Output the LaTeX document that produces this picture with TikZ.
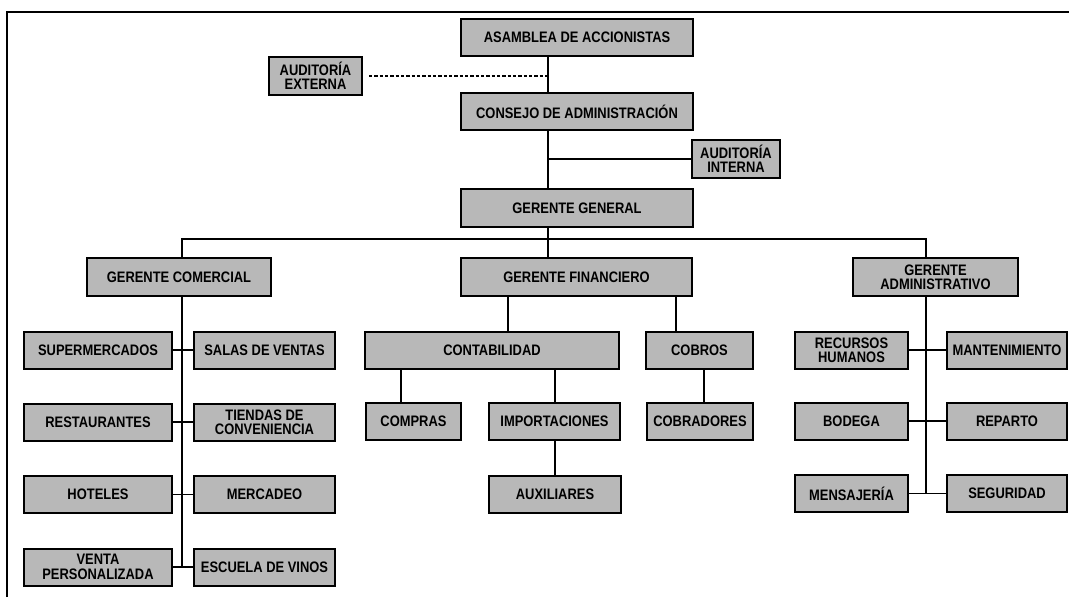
\documentclass[tikz,border=0pt]{standalone}
\usepackage{fontspec}
\setmainfont{Liberation Sans}[FakeStretch=0.85]
\definecolor{relleno}{RGB}{184,184,184}

\tikzset{every picture/.style={line width=0.75pt}}
\tikzset{
	cargo/.style={draw, line width=1.5pt, fill=relleno, inner sep=0pt, align=center,
		minimum height=37*0.75pt, font=\bfseries\fontsize{11.4}{10.8}\selectfont},
	ancho/.style={minimum width=#1*0.75pt},
	enlace/.style={line width=1pt}}

\begin{document}
\begin{tikzpicture}[x=0.75pt,y=0.75pt,yscale=-1,xscale=1]
	\useasboundingbox (0,0) rectangle (1069,597);

	%Straight Lines: marco
	\draw [line width=1pt] (7,597) -- (7,12) -- (1069,12) ;

	%Coordinates: ejes de las lineas
	\coordinate (eje) at (548,0);
	\coordinate (ejeC) at (182,0);
	\coordinate (ejeA) at (926,0);
	\coordinate (bus) at (0,239);
	\coordinate (xF1) at (508,0);
	\coordinate (xF2) at (676,0);
	\coordinate (xC1) at (401,0);
	\coordinate (xC2) at (555,0);
	\coordinate (xB) at (704,0);

	%Shape: Rectangle (direccion)
	\node [cargo, ancho=232] (asamblea) at (577,37.5) {ASAMBLEA DE ACCIONISTAS};
	\node [cargo, ancho=93, minimum height=38*0.75pt] (audext) at (315.5,76) {AUDITORÍA\\EXTERNA};
	\node [cargo, ancho=232] (consejo) at (577,111.5) {CONSEJO DE ADMINISTRACIÓN};
	\node [cargo, ancho=88, minimum height=38*0.75pt] (audint) at (736,159) {AUDITORÍA\\INTERNA};
	\node [cargo, ancho=232, minimum height=38*0.75pt] (gerente) at (577,208) {GERENTE GENERAL};

	%Shape: Rectangle (gerencias)
	\node [cargo, ancho=184, minimum height=38*0.75pt] (comercial) at (179,277) {GERENTE COMERCIAL};
	\node [cargo, ancho=231, minimum height=38*0.75pt] (financiero) at (576.5,277) {GERENTE FINANCIERO};
	\node [cargo, ancho=165, minimum height=38*0.75pt] (admin) at (935.5,277) {GERENTE\\ADMINISTRATIVO};

	%Shape: Rectangle (comercial)
	\node [cargo, ancho=148] (super) at (98,350) {SUPERMERCADOS};
	\node [cargo, ancho=141] (salas) at (264.5,350) {SALAS DE VENTAS};
	\node [cargo, ancho=148] (rest) at (98,422) {RESTAURANTES};
	\node [cargo, ancho=141] (tiendas) at (264.5,422) {TIENDAS DE\\CONVENIENCIA};
	\node [cargo, ancho=148] (hoteles) at (98,494.5) {HOTELES};
	\node [cargo, ancho=141] (mercadeo) at (264.5,494.5) {MERCADEO};
	\node [cargo, ancho=148] (venta) at (98,567) {VENTA\\PERSONALIZADA};
	\node [cargo, ancho=141] (escuela) at (264.5,567) {ESCUELA DE VINOS};

	%Shape: Rectangle (financiero)
	\node [cargo, ancho=254] (contab) at (492,350) {CONTABILIDAD};
	\node [cargo, ancho=107] (cobros) at (699.5,350) {COBROS};
	\node [cargo, ancho=95] (compras) at (413.5,421.5) {COMPRAS};
	\node [cargo, ancho=131] (import) at (554.5,421.5) {IMPORTACIONES};
	\node [cargo, ancho=106] (cobradores) at (700,421.5) {COBRADORES};
	\node [cargo, ancho=132] (aux) at (555,494) {AUXILIARES};

	%Shape: Rectangle (administrativo)
	\node [cargo, ancho=113] (rrhh) at (851.5,350) {RECURSOS\\HUMANOS};
	\node [cargo, ancho=120] (mant) at (1007,350) {MANTENIMIENTO};
	\node [cargo, ancho=113] (bodega) at (851.5,421) {BODEGA};
	\node [cargo, ancho=120] (reparto) at (1007,421) {REPARTO};
	\node [cargo, ancho=113] (mensajeria) at (851.5,493.5) {MENSAJERÍA};
	\node [cargo, ancho=120] (seguridad) at (1007,493.5) {SEGURIDAD};

	%Straight Lines: tronco principal
	\draw [enlace] (asamblea.south -| eje) -- (consejo.north -| eje) ;
	\draw [enlace, dash pattern={on 2.5pt off 1.5pt}] ([xshift=4.5pt]audext.east) -- (audext.east -| eje) ;
	\draw [enlace] (consejo.south -| eje) -- (gerente.north -| eje) ;
	\draw [enlace] (audint.west) -- (audint.west -| eje) ;
	\draw [enlace] (gerente.south -| eje) -- (financiero.north -| eje) ;
	\draw [enlace] (comercial.north -| ejeC) -- (bus -| ejeC) -- (bus -| ejeA) -- (admin.north -| ejeA) ;

	%Straight Lines: comercial
	\draw [enlace] (comercial.south -| ejeC) -- (venta.east -| ejeC) ;
	\draw [enlace] (super.east) -- (salas.west) ;
	\draw [enlace] (rest.east) -- (tiendas.west) ;
	\draw [enlace] (hoteles.east) -- (mercadeo.west) ;
	\draw [enlace] (venta.east) -- (escuela.west) ;

	%Straight Lines: financiero
	\draw [enlace] (financiero.south -| xF1) -- (contab.north -| xF1) ;
	\draw [enlace] (financiero.south -| xF2) -- (cobros.north -| xF2) ;
	\draw [enlace] (contab.south -| xC1) -- (compras.north -| xC1) ;
	\draw [enlace] (contab.south -| xC2) -- (import.north -| xC2) ;
	\draw [enlace] (import.south -| xC2) -- (aux.north -| xC2) ;
	\draw [enlace] (cobros.south -| xB) -- (cobradores.north -| xB) ;

	%Straight Lines: administrativo
	\draw [enlace] (admin.south -| ejeA) -- (mensajeria.east -| ejeA) ;
	\draw [enlace] (rrhh.east) -- (mant.west) ;
	\draw [enlace] (bodega.east) -- (reparto.west) ;
	\draw [enlace] (mensajeria.east) -- (seguridad.west) ;

\end{tikzpicture}
\end{document}
